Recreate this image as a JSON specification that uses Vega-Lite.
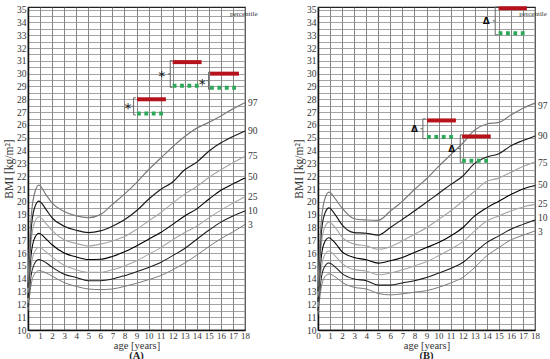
{
  "$schema": "https://vega.github.io/schema/vega-lite/v6.json",
  "padding": {"left": 2, "top": 3, "right": 0, "bottom": 0},
  "bounds": "flush",
  "spacing": 73,
  "config": {
    "font": "Liberation Serif",
    "view": {"stroke": "#222", "strokeWidth": 1.2},
    "axis": {
      "labelFont": "Liberation Serif", "labelFontSize": 9.5, "labelColor": "#333",
      "titleFont": "Liberation Serif", "titleFontSize": 11.5, "titleFontWeight": "normal", "titleColor": "#333",
      "ticks": false, "domainColor": "#111", "domainWidth": 1.5, "grid": true, "gridWidth": 0.8, "gridOpacity": 1, "labelPadding": 2
    },
    "axisX": {"tickCount": 18, "gridColor": "#666", "labelFlush": false, "labelFontSize": 9, "labelPadding": 1, "titleFontSize": 10.5, "titlePadding": 0},
    "axisY": {"tickCount": 50, "gridColor": "#8c8c8c", "labelExpr": "datum.value % 1 === 0 ? format(datum.value, 'd') : ''", "titlePadding": 2},
    "title": {"font": "Liberation Serif", "fontSize": 10.5, "fontWeight": "bold", "color": "#222"}
  },
  "datasets": {
    "curves": [
      {"panel":"A","age":0,"p3":11.5,"p10":11.8,"p25":12.1,"p50":12.5,"p75":12.9,"p90":13.3,"p97":13.7},
      {"panel":"A","age":0.25,"p3":13.5,"p10":14.2,"p25":14.9,"p50":15.8,"p75":16.8,"p90":17.7,"p97":18.6},
      {"panel":"A","age":0.5,"p3":14.3,"p10":15.1,"p25":16.0,"p50":17.05,"p75":18.25,"p90":19.4,"p97":20.5},
      {"panel":"A","age":0.9,"p3":14.63,"p10":15.5,"p25":16.43,"p50":17.55,"p75":18.84,"p90":20.05,"p97":21.3},
      {"panel":"A","age":1.5,"p3":14.45,"p10":15.25,"p25":16.1,"p50":17.1,"p75":18.3,"p90":19.4,"p97":20.55},
      {"panel":"A","age":2,"p3":14.2,"p10":14.9,"p25":15.7,"p50":16.65,"p75":17.75,"p90":18.75,"p97":19.9},
      {"panel":"A","age":3,"p3":13.7,"p10":14.35,"p25":15.05,"p50":16.0,"p75":17.05,"p90":18.1,"p97":19.25},
      {"panel":"A","age":4,"p3":13.4,"p10":14.1,"p25":14.7,"p50":15.7,"p75":16.75,"p90":17.78,"p97":18.9},
      {"panel":"A","age":5,"p3":13.2,"p10":13.85,"p25":14.5,"p50":15.5,"p75":16.56,"p90":17.6,"p97":18.76},
      {"panel":"A","age":6,"p3":13.15,"p10":13.85,"p25":14.5,"p50":15.52,"p75":16.7,"p90":17.73,"p97":19.0},
      {"panel":"A","age":7,"p3":13.2,"p10":13.98,"p25":14.7,"p50":15.74,"p75":16.95,"p90":18.1,"p97":19.8},
      {"panel":"A","age":8,"p3":13.4,"p10":14.24,"p25":15.0,"p50":16.1,"p75":17.3,"p90":18.6,"p97":20.6},
      {"panel":"A","age":9,"p3":13.64,"p10":14.55,"p25":15.4,"p50":16.56,"p75":17.85,"p90":19.3,"p97":21.5},
      {"panel":"A","age":10,"p3":13.93,"p10":14.88,"p25":15.9,"p50":17.08,"p75":18.5,"p90":20.2,"p97":22.5},
      {"panel":"A","age":11,"p3":14.24,"p10":15.27,"p25":16.43,"p50":17.6,"p75":19.15,"p90":20.96,"p97":23.4},
      {"panel":"A","age":12,"p3":14.7,"p10":15.8,"p25":17.03,"p50":18.24,"p75":19.9,"p90":21.55,"p97":24.3},
      {"panel":"A","age":13,"p3":15.22,"p10":16.36,"p25":17.6,"p50":18.9,"p75":20.6,"p90":22.5,"p97":25.1},
      {"panel":"A","age":14,"p3":15.84,"p10":17.08,"p25":18.1,"p50":19.45,"p75":21.2,"p90":23.1,"p97":25.75},
      {"panel":"A","age":15,"p3":16.5,"p10":17.78,"p25":18.75,"p50":20.2,"p75":21.9,"p90":23.95,"p97":26.2},
      {"panel":"A","age":16,"p3":17.13,"p10":18.42,"p25":19.35,"p50":20.9,"p75":22.5,"p90":24.6,"p97":26.7},
      {"panel":"A","age":17,"p3":17.65,"p10":18.9,"p25":19.9,"p50":21.4,"p75":23.05,"p90":25.1,"p97":27.25},
      {"panel":"A","age":18,"p3":18.24,"p10":19.28,"p25":20.4,"p50":21.86,"p75":23.55,"p90":25.53,"p97":27.73},
      {"panel":"B","age":0,"p3":11.2,"p10":11.5,"p25":11.8,"p50":12.2,"p75":12.6,"p90":13.0,"p97":13.4},
      {"panel":"B","age":0.25,"p3":13.2,"p10":13.9,"p25":14.6,"p50":15.5,"p75":16.4,"p90":17.3,"p97":18.2},
      {"panel":"B","age":0.5,"p3":14.05,"p10":14.85,"p25":15.75,"p50":16.75,"p75":17.85,"p90":18.9,"p97":20.0},
      {"panel":"B","age":0.9,"p3":14.37,"p10":15.22,"p25":16.17,"p50":17.2,"p75":18.42,"p90":19.53,"p97":20.75},
      {"panel":"B","age":1.5,"p3":14.1,"p10":14.85,"p25":15.7,"p50":16.7,"p75":17.9,"p90":18.9,"p97":20.15},
      {"panel":"B","age":2,"p3":13.72,"p10":14.4,"p25":15.2,"p50":16.1,"p75":17.25,"p90":18.2,"p97":19.5},
      {"panel":"B","age":3,"p3":13.33,"p10":13.98,"p25":14.7,"p50":15.66,"p75":16.7,"p90":17.6,"p97":18.68},
      {"panel":"B","age":4,"p3":13.2,"p10":13.85,"p25":14.6,"p50":15.48,"p75":16.56,"p90":17.55,"p97":18.58},
      {"panel":"B","age":5,"p3":12.85,"p10":13.5,"p25":14.3,"p50":15.22,"p75":16.3,"p90":17.4,"p97":18.55},
      {"panel":"B","age":6,"p3":12.74,"p10":13.5,"p25":14.44,"p50":15.4,"p75":16.5,"p90":18.0,"p97":19.28},
      {"panel":"B","age":7,"p3":12.82,"p10":13.67,"p25":14.7,"p50":15.66,"p75":16.95,"p90":18.63,"p97":20.05},
      {"panel":"B","age":8,"p3":12.95,"p10":13.85,"p25":15.0,"p50":16.05,"p75":17.47,"p90":19.28,"p97":20.96},
      {"panel":"B","age":9,"p3":13.07,"p10":14.1,"p25":15.32,"p50":16.43,"p75":17.98,"p90":19.97,"p97":21.8},
      {"panel":"B","age":10,"p3":13.33,"p10":14.44,"p25":15.79,"p50":16.82,"p75":18.63,"p90":20.65,"p97":22.76},
      {"panel":"B","age":11,"p3":13.67,"p10":14.8,"p25":16.3,"p50":17.34,"p75":19.28,"p90":21.34,"p97":23.67},
      {"panel":"B","age":12,"p3":14.1,"p10":15.27,"p25":16.87,"p50":17.98,"p75":20.05,"p90":22.0,"p97":24.57},
      {"panel":"B","age":13,"p3":14.88,"p10":16.05,"p25":17.73,"p50":18.9,"p75":20.83,"p90":23.0,"p97":25.6},
      {"panel":"B","age":14,"p3":15.79,"p10":16.82,"p25":18.5,"p50":19.53,"p75":21.6,"p90":23.5,"p97":26.07},
      {"panel":"B","age":15,"p3":16.43,"p10":17.34,"p25":18.9,"p50":20.05,"p75":21.85,"p90":23.75,"p97":26.2},
      {"panel":"B","age":16,"p3":17.03,"p10":17.86,"p25":19.28,"p50":20.57,"p75":22.3,"p90":24.37,"p97":26.77},
      {"panel":"B","age":17,"p3":17.39,"p10":18.24,"p25":19.6,"p50":21.0,"p75":22.75,"p90":24.78,"p97":27.3},
      {"panel":"B","age":18,"p3":17.73,"p10":18.58,"p25":19.8,"p50":21.27,"p75":23.1,"p90":25.14,"p97":27.7}
    ],
    "segs": [
      {"panel":"A","from":9.04,"to":11.44,"red":28.0,"green":26.9},
      {"panel":"A","from":12.0,"to":14.4,"red":30.9,"green":29.05},
      {"panel":"A","from":15.1,"to":17.5,"red":30.0,"green":28.9},
      {"panel":"B","from":9.04,"to":11.44,"red":26.35,"green":25.05},
      {"panel":"B","from":11.95,"to":14.33,"red":25.1,"green":23.2},
      {"panel":"B","from":14.98,"to":17.33,"red":35.1,"green":33.15}
    ],
    "brackets": [
      {"panel":"A","x":8.76,"x2":8.76,"y":26.78,"y2":28.12},
      {"panel":"A","x":8.76,"x2":8.95,"y":28.12,"y2":28.12},
      {"panel":"A","x":8.76,"x2":8.95,"y":26.78,"y2":26.78},
      {"panel":"A","x":8.58,"x2":8.76,"y":27.45,"y2":27.45},
      {"panel":"A","x":11.8,"x2":11.8,"y":28.93,"y2":31.02},
      {"panel":"A","x":11.8,"x2":11.98,"y":31.02,"y2":31.02},
      {"panel":"A","x":11.8,"x2":11.98,"y":28.93,"y2":28.93},
      {"panel":"A","x":11.62,"x2":11.8,"y":29.98,"y2":29.98},
      {"panel":"A","x":14.98,"x2":14.98,"y":28.78,"y2":30.12},
      {"panel":"A","x":14.98,"x2":15.12,"y":30.12,"y2":30.12},
      {"panel":"A","x":14.98,"x2":15.12,"y":28.78,"y2":28.78},
      {"panel":"A","x":14.8,"x2":14.98,"y":29.45,"y2":29.45},
      {"panel":"B","x":8.7,"x2":8.7,"y":24.93,"y2":26.47},
      {"panel":"B","x":8.7,"x2":8.95,"y":26.47,"y2":26.47},
      {"panel":"B","x":8.7,"x2":8.95,"y":24.93,"y2":24.93},
      {"panel":"B","x":8.5,"x2":8.7,"y":25.7,"y2":25.7},
      {"panel":"B","x":11.8,"x2":11.8,"y":23.08,"y2":25.22},
      {"panel":"B","x":11.8,"x2":11.95,"y":25.22,"y2":25.22},
      {"panel":"B","x":11.8,"x2":11.95,"y":23.08,"y2":23.08},
      {"panel":"B","x":11.6,"x2":11.8,"y":24.15,"y2":24.15},
      {"panel":"B","x":14.7,"x2":14.7,"y":33.03,"y2":35.2},
      {"panel":"B","x":14.7,"x2":14.95,"y":35.2,"y2":35.2},
      {"panel":"B","x":14.7,"x2":14.95,"y":33.03,"y2":33.03},
      {"panel":"B","x":14.5,"x2":14.7,"y":34.12,"y2":34.12}
    ],
    "symbols": [
      {"panel":"A","age":8.3,"bmi":27.45,"s":"*"},
      {"panel":"A","age":11.1,"bmi":29.95,"s":"*"},
      {"panel":"A","age":14.45,"bmi":29.35,"s":"*"},
      {"panel":"B","age":8.0,"bmi":25.65,"s":"Δ"},
      {"panel":"B","age":11.1,"bmi":24.1,"s":"Δ"},
      {"panel":"B","age":13.95,"bmi":34.12,"s":"Δ"}
    ],
    "plabels": [
      {"panel":"A","bmi":27.7,"t":"97"},{"panel":"A","bmi":25.5,"t":"90"},{"panel":"A","bmi":23.6,"t":"75"},
      {"panel":"A","bmi":21.9,"t":"50"},{"panel":"A","bmi":20.4,"t":"25"},{"panel":"A","bmi":19.3,"t":"10"},
      {"panel":"A","bmi":18.2,"t":"3"},
      {"panel":"B","bmi":27.5,"t":"97"},{"panel":"B","bmi":25.1,"t":"90"},{"panel":"B","bmi":23.0,"t":"75"},
      {"panel":"B","bmi":21.3,"t":"50"},{"panel":"B","bmi":19.85,"t":"25"},{"panel":"B","bmi":18.7,"t":"10"},
      {"panel":"B","bmi":17.65,"t":"3"}
    ],
    "ptitle": [
      {"panel":"A","age":16.75,"bmi":34.65,"t":"percentile"},
      {"panel":"B","age":16.7,"bmi":34.65,"t":"percentile"}
    ]
  },
  "hconcat": [
    {
      "width": 217, "height": 323,
      "title": {"text": "(A)", "orient": "bottom", "offset": 0},
      "layer": [
        {
          "data": {"name": "curves"},
          "transform": [{"filter": "datum.panel == 'A'"}, {"fold": ["p3","p10","p25","p50","p75","p90","p97"], "as": ["key","bmi"]}],
          "mark": {"type": "line", "interpolate": "monotone"},
          "encoding": {
            "x": {"field": "age", "type": "quantitative", "scale": {"domain": [0, 18], "nice": false}, "axis": {"title": "age [years]"}},
            "y": {"field": "bmi", "type": "quantitative", "scale": {"domain": [10, 35.2], "nice": false, "zero": false}, "axis": {"title": "BMI [kg/m²]"}},
            "detail": {"field": "key"},
            "color": {"field": "key", "type": "nominal", "legend": null, "scale": {"domain": ["p3","p10","p25","p50","p75","p90","p97"], "range": ["#7a7a7a","#1a1a1a","#a6a6a6","#000000","#a6a6a6","#1a1a1a","#7a7a7a"]}},
            "strokeWidth": {"field": "key", "type": "nominal", "legend": null, "scale": {"domain": ["p3","p10","p25","p50","p75","p90","p97"], "range": [1, 1.2, 1, 1.8, 1, 1.2, 1]}}
          }
        },
        {
          "data": {"name": "segs"}, "transform": [{"filter": "datum.panel == 'A'"}],
          "mark": {"type": "rule", "color": "#b5121b", "strokeWidth": 4},
          "encoding": {"x": {"field": "from", "type": "quantitative", "scale": {"domain": [0, 18], "nice": false}}, "x2": {"field": "to"}, "y": {"field": "red", "type": "quantitative", "scale": {"domain": [10, 35.2], "nice": false}}}
        },
        {
          "data": {"name": "segs"}, "transform": [{"filter": "datum.panel == 'A'"}],
          "mark": {"type": "rule", "color": "#2da858", "strokeWidth": 4, "strokeDash": [3.8, 3.6]},
          "encoding": {"x": {"field": "from", "type": "quantitative", "scale": {"domain": [0, 18], "nice": false}}, "x2": {"field": "to"}, "y": {"field": "green", "type": "quantitative", "scale": {"domain": [10, 35.2], "nice": false}}}
        },
        {
          "data": {"name": "brackets"}, "transform": [{"filter": "datum.panel == 'A'"}],
          "mark": {"type": "rule", "color": "#666", "strokeWidth": 1},
          "encoding": {"x": {"field": "x", "type": "quantitative", "scale": {"domain": [0, 18], "nice": false}}, "x2": {"field": "x2"}, "y": {"field": "y", "type": "quantitative", "scale": {"domain": [10, 35.2], "nice": false}}, "y2": {"field": "y2"}}
        },
        {
          "data": {"name": "symbols"}, "transform": [{"filter": "datum.panel == 'A'"}],
          "mark": {"type": "text", "fontSize": 14, "font": "DejaVu Sans", "color": "#111", "baseline": "middle", "dy": 3},
          "encoding": {"x": {"field": "age", "type": "quantitative", "scale": {"domain": [0, 18], "nice": false}}, "y": {"field": "bmi", "type": "quantitative", "scale": {"domain": [10, 35.2], "nice": false}}, "text": {"field": "s"}}
        },
        {
          "data": {"name": "plabels"}, "transform": [{"filter": "datum.panel == 'A'"}],
          "mark": {"type": "text", "fontSize": 9.5, "font": "Liberation Serif", "color": "#333", "align": "left", "baseline": "middle", "dx": 3},
          "encoding": {"x": {"datum": 18, "type": "quantitative", "scale": {"domain": [0, 18], "nice": false}}, "y": {"field": "bmi", "type": "quantitative", "scale": {"domain": [10, 35.2], "nice": false}}, "text": {"field": "t"}}
        },
        {
          "data": {"name": "ptitle"}, "transform": [{"filter": "datum.panel == 'A'"}],
          "mark": {"type": "text", "fontSize": 7, "font": "Liberation Serif", "color": "#333", "align": "left", "baseline": "middle"},
          "encoding": {"x": {"field": "age", "type": "quantitative", "scale": {"domain": [0, 18], "nice": false}}, "y": {"field": "bmi", "type": "quantitative", "scale": {"domain": [10, 35.2], "nice": false}}, "text": {"field": "t"}}
        }
      ]
    },
    {
      "width": 217, "height": 323,
      "title": {"text": "(B)", "orient": "bottom", "offset": 0},
      "layer": [
        {
          "data": {"name": "curves"},
          "transform": [{"filter": "datum.panel == 'B'"}, {"fold": ["p3","p10","p25","p50","p75","p90","p97"], "as": ["key","bmi"]}],
          "mark": {"type": "line", "interpolate": "monotone"},
          "encoding": {
            "x": {"field": "age", "type": "quantitative", "scale": {"domain": [0, 18], "nice": false}, "axis": {"title": "age [years]"}},
            "y": {"field": "bmi", "type": "quantitative", "scale": {"domain": [10, 35.2], "nice": false, "zero": false}, "axis": {"title": "BMI [kg/m²]"}},
            "detail": {"field": "key"},
            "color": {"field": "key", "type": "nominal", "legend": null, "scale": {"domain": ["p3","p10","p25","p50","p75","p90","p97"], "range": ["#7a7a7a","#1a1a1a","#a6a6a6","#000000","#a6a6a6","#1a1a1a","#7a7a7a"]}},
            "strokeWidth": {"field": "key", "type": "nominal", "legend": null, "scale": {"domain": ["p3","p10","p25","p50","p75","p90","p97"], "range": [1, 1.2, 1, 1.8, 1, 1.2, 1]}}
          }
        },
        {
          "data": {"name": "segs"}, "transform": [{"filter": "datum.panel == 'B'"}],
          "mark": {"type": "rule", "color": "#b5121b", "strokeWidth": 4},
          "encoding": {"x": {"field": "from", "type": "quantitative", "scale": {"domain": [0, 18], "nice": false}}, "x2": {"field": "to"}, "y": {"field": "red", "type": "quantitative", "scale": {"domain": [10, 35.2], "nice": false}}}
        },
        {
          "data": {"name": "segs"}, "transform": [{"filter": "datum.panel == 'B'"}],
          "mark": {"type": "rule", "color": "#2da858", "strokeWidth": 4, "strokeDash": [3.8, 3.6]},
          "encoding": {"x": {"field": "from", "type": "quantitative", "scale": {"domain": [0, 18], "nice": false}}, "x2": {"field": "to"}, "y": {"field": "green", "type": "quantitative", "scale": {"domain": [10, 35.2], "nice": false}}}
        },
        {
          "data": {"name": "brackets"}, "transform": [{"filter": "datum.panel == 'B'"}],
          "mark": {"type": "rule", "color": "#666", "strokeWidth": 1},
          "encoding": {"x": {"field": "x", "type": "quantitative", "scale": {"domain": [0, 18], "nice": false}}, "x2": {"field": "x2"}, "y": {"field": "y", "type": "quantitative", "scale": {"domain": [10, 35.2], "nice": false}}, "y2": {"field": "y2"}}
        },
        {
          "data": {"name": "symbols"}, "transform": [{"filter": "datum.panel == 'B'"}],
          "mark": {"type": "text", "fontSize": 9, "font": "DejaVu Sans", "fontWeight": "bold", "color": "#111", "baseline": "middle"},
          "encoding": {"x": {"field": "age", "type": "quantitative", "scale": {"domain": [0, 18], "nice": false}}, "y": {"field": "bmi", "type": "quantitative", "scale": {"domain": [10, 35.2], "nice": false}}, "text": {"field": "s"}}
        },
        {
          "data": {"name": "plabels"}, "transform": [{"filter": "datum.panel == 'B'"}],
          "mark": {"type": "text", "fontSize": 9.5, "font": "Liberation Serif", "color": "#333", "align": "left", "baseline": "middle", "dx": 3},
          "encoding": {"x": {"datum": 18, "type": "quantitative", "scale": {"domain": [0, 18], "nice": false}}, "y": {"field": "bmi", "type": "quantitative", "scale": {"domain": [10, 35.2], "nice": false}}, "text": {"field": "t"}}
        },
        {
          "data": {"name": "ptitle"}, "transform": [{"filter": "datum.panel == 'B'"}],
          "mark": {"type": "text", "fontSize": 7, "font": "Liberation Serif", "color": "#333", "align": "left", "baseline": "middle"},
          "encoding": {"x": {"field": "age", "type": "quantitative", "scale": {"domain": [0, 18], "nice": false}}, "y": {"field": "bmi", "type": "quantitative", "scale": {"domain": [10, 35.2], "nice": false}}, "text": {"field": "t"}}
        }
      ]
    }
  ]
}
